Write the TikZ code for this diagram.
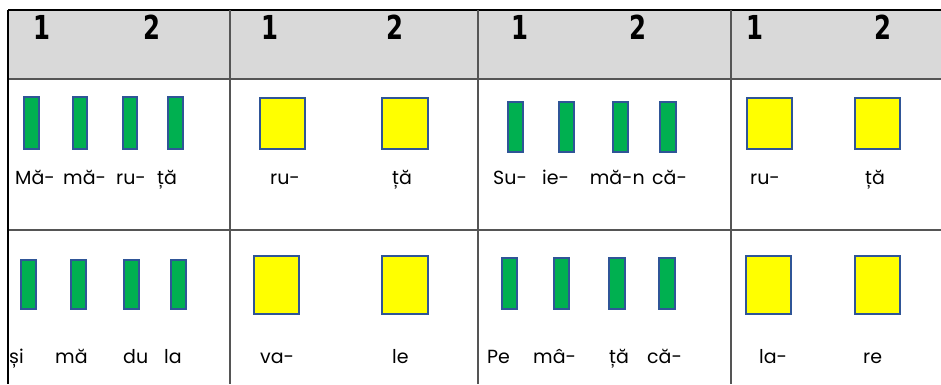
\documentclass[tikz,border=0pt]{standalone}
\usepackage{fontspec}
\setmainfont{Poppins}
\newfontfamily\headfont{DejaVu Sans Condensed}[BoldFont={DejaVu Sans Condensed Bold}]
\definecolor{gbar}{HTML}{00B050}
\definecolor{ybox}{HTML}{FFFF00}
\definecolor{edgeblue}{HTML}{2F5597}
\definecolor{hdr}{HTML}{D9D9D9}
\definecolor{grid}{HTML}{555555}
\newcommand{\hdg}[1]{\scalebox{0.82}[1]{#1}}
\tikzset{
  bar/.style={draw=edgeblue,line width=1.1pt,fill=gbar},
  sq/.style={draw=edgeblue,line width=1.1pt,fill=ybox},
  syl/.style={anchor=base west,inner sep=0pt,font=\fontsize{19}{19}\selectfont},
  hd/.style={anchor=base,inner sep=0pt,font=\headfont\bfseries\fontsize{33}{33}\selectfont},
  gridline/.style={draw=grid,line width=1.1pt}
}
\begin{document}
\begin{tikzpicture}[x=1pt,y=-1pt]
\useasboundingbox (0,0) rectangle (941,384);
% header
\fill[hdr] (8,10) rectangle (941,79);
\draw[line width=1.5pt] (8,10) -- (941,10);
\draw[gridline,line width=1.8pt] (8,79) -- (941,79);
\draw[gridline] (8,230) -- (941,230);
\draw[line width=1.6pt] (8,10) -- (8,384);
\foreach \x in {230,478,731} \draw[gridline] (\x,10) -- (\x,384);
% header digits
\node[hd] (h1a) at (42,39) {\hdg{1}};
\node[hd] (h1b) at (152,39) {\hdg{2}};
\node[hd] (h2a) at (270,39) {\hdg{1}};
\node[hd] (h2b) at (395,39) {\hdg{2}};
\node[hd] (h3a) at (520,39) {\hdg{1}};
\node[hd] (h3b) at (638,39) {\hdg{2}};
\node[hd] (h4a) at (755,39) {\hdg{1}};
\node[hd] (h4b) at (883,39) {\hdg{2}};
% row 1
\path[bar] (24,97) rectangle (39,149) coordinate (b11);
\path[bar] (73,97) rectangle (87,149) coordinate (b12);
\path[bar] (123,97) rectangle (137,149) coordinate (b13);
\path[bar] (168,97) rectangle (183,149) coordinate (b14);
\path[sq] (260,98) rectangle (305,149) coordinate (s11);
\path[sq] (382,98) rectangle (428,149) coordinate (s12);
\path[bar] (508,102) rectangle (523,152) coordinate (b31);
\path[bar] (559,102) rectangle (574,152) coordinate (b32);
\path[bar] (613,102) rectangle (628,152) coordinate (b33);
\path[bar] (660,102) rectangle (676,152) coordinate (b34);
\path[sq] (747,98) rectangle (792,149) coordinate (s31);
\path[sq] (855,98) rectangle (900,149) coordinate (s32);
\node[syl] (t11) at (15,184) {Mă-};
\node[syl] (t12) at (63,184) {mă-};
\node[syl] (t13) at (116,184) {ru-};
\node[syl] (t14) at (157,184) {ță};
\node[syl] (t15) at (270,184) {ru-};
\node[syl] (t16) at (392,184) {ță};
\node[syl] (t17) at (493,184) {Su-};
\node[syl] (t18) at (542,184) {ie-};
\node[syl,anchor=base east] (t19) at (645,184) {mă-n};
\node[syl] (t1a) at (652,184) {că-};
\node[syl] (t1b) at (750,184) {ru-};
\node[syl] (t1c) at (865,184) {ță};
% row 2
\path[bar] (21,260) rectangle (36,309) coordinate (b21);
\path[bar] (71,260) rectangle (86,309) coordinate (b22);
\path[bar] (124,260) rectangle (139,309) coordinate (b23);
\path[bar] (171,260) rectangle (186,309) coordinate (b24);
\path[sq] (254,256) rectangle (299,314) coordinate (s21);
\path[sq] (382,256) rectangle (428,314) coordinate (s22);
\path[bar] (502,258) rectangle (517,309) coordinate (b41);
\path[bar] (554,258) rectangle (569,309) coordinate (b42);
\path[bar] (609,258) rectangle (625,309) coordinate (b43);
\path[bar] (659,258) rectangle (675,309) coordinate (b44);
\path[sq] (746,256) rectangle (791,314) coordinate (s41);
\path[sq] (855,256) rectangle (900,314) coordinate (s42);
\node[syl] (t21) at (9,363) {și};
\node[syl] (t22) at (55,363) {mă};
\node[syl] (t23) at (123,363) {du};
\node[syl] (t24) at (164,363) {la};
\node[syl] (t25) at (260,363) {va-};
\node[syl] (t26) at (392,363) {le};
\node[syl] (t27) at (487,363) {Pe};
\node[syl] (t28) at (533,363) {mâ-};
\node[syl] (t29) at (609,363) {ță};
\node[syl] (t2a) at (647,363) {că-};
\node[syl] (t2b) at (759,363) {la-};
\node[syl] (t2c) at (863,363) {re};
\end{tikzpicture}
\end{document}
